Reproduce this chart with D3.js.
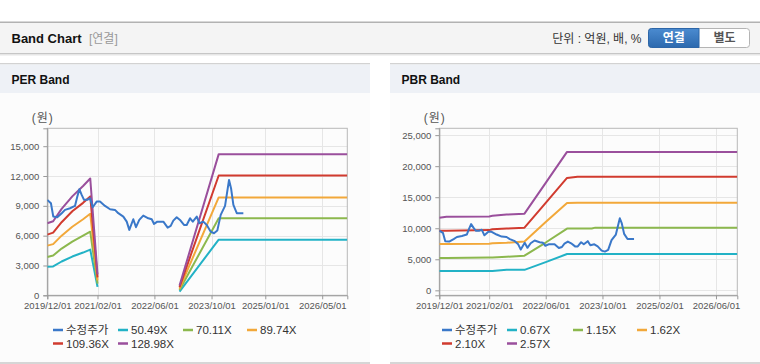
<!DOCTYPE html>
<html><head><meta charset="utf-8">
<script src="https://cdn.jsdelivr.net/npm/d3@7"></script>
<style>
body{margin:0;background:#fff;}
svg{display:block;font-family:"Liberation Sans","Noto Sans CJK KR",sans-serif;}
</style>
</head><body><svg id="c" width="760" height="364"></svg>
<script>
// ---------------- DATA ----------------
const priceDates = ["2019-12-01","2020-01-01","2020-01-21","2020-02-24","2020-04-02","2020-04-30","2020-06-12","2020-07-24","2020-08-13","2020-08-30","2020-09-19","2020-10-09","2020-11-06","2020-11-29","2020-12-22","2021-01-25","2021-02-22","2021-04-06","2021-05-19","2021-06-30","2021-07-28","2021-09-09","2021-10-08","2021-10-30","2021-12-03","2021-12-26","2022-01-23","2022-02-26","2022-04-10","2022-05-09","2022-05-29","2022-06-26","2022-08-16","2022-09-22","2022-10-18","2022-11-09","2022-12-08","2023-01-05","2023-02-08","2023-03-03","2023-04-01","2023-04-24","2023-05-28","2023-06-19","2023-07-23","2023-08-21","2023-09-24","2023-10-22","2023-11-19","2023-12-18","2024-01-24","2024-02-27","2024-03-15","2024-04-04","2024-05-03","2024-06-28"];
const priceValues = [9600,9260,7920,7850,8260,8590,8760,8990,9930,10670,10100,9600,9600,9770,8860,9430,9430,8990,8660,8590,8260,7920,7410,6580,7650,6850,7580,8020,7750,7650,7180,7410,7410,6810,6980,7510,7850,7580,7080,7080,7750,7410,7920,7250,7410,7080,6400,6240,6510,8090,8990,11610,10780,9090,8260,8260];

const perBandDates = ["2019-12-01","2020-01-20","2020-04-01","2020-07-01","2020-10-01","2020-12-01","2021-02-01","2021-03-01","2023-01-01","2023-12-01","2026-12-01"];
const per50 = [2880,2900,3400,3900,4300,4600,850,null,380,5600,5600];
const per70 = [3850,4000,4700,5400,6000,6400,1180,null,530,7750,7750];
const per89 = [5000,5150,6000,6900,7650,8200,1500,null,680,9850,9850];
const per109 = [6100,6300,7350,8450,9300,9950,1800,null,830,12050,12050];
const per128 = [7250,7450,8700,9950,11000,11750,2100,null,980,14200,14200];

const pbrBandDates = ["2019-12-01","2020-02-01","2021-02-01","2021-03-01","2021-07-01","2021-12-01","2022-06-01","2022-12-01","2023-03-01","2023-07-01","2023-08-01","2026-12-01"];
const pbr067 = [3100,3100,3100,3100,3300,3300,4550,5850,5850,5850,5850,5850];
const pbr115 = [5200,5200,5300,5300,5400,5580,7700,9950,9950,9950,10100,10100];
const pbr162 = [7450,7450,7500,7600,7650,7850,11000,14050,14100,14100,14100,14100];
const pbr210 = [9600,9600,9700,9850,9950,10100,14100,18100,18300,18300,18300,18300];
const pbr257 = [11700,11850,11900,12000,12200,12350,17300,22300,22300,22300,22300,22300];

const perLegend = ["수정주가","50.49X","70.11X","89.74X","109.36X","128.98X"];
const pbrLegend = ["수정주가","0.67X","1.15X","1.62X","2.10X","2.57X"];
const perYTicks = [0,3000,6000,9000,12000,15000];
const pbrYTicks = [0,5000,10000,15000,20000,25000];
const perXTicks = ["2019/12/01","2021/02/01","2022/06/01","2023/10/01","2025/01/01","2026/05/01"];
const pbrXTicks = ["2019/12/01","2021/02/01","2022/06/01","2023/10/01","2025/02/01","2026/06/01"];
const colors = ["#3a78c9","#22b2c6","#8cb84e","#f2a83a","#d13b2f","#9a4f9c"];

// ---------------- DRAW ----------------
const svg = d3.select("#c");
const parse = d3.timeParse("%Y-%m-%d");
const parseT = d3.timeParse("%Y/%m/%d");

// header
svg.append("rect").attr("x",0).attr("y",21.5).attr("width",760).attr("height",1.5).attr("fill","#b2b2b2");
svg.append("rect").attr("x",0).attr("y",23).attr("width",760).attr("height",30).attr("fill","#f4f4f4");
svg.append("rect").attr("x",0).attr("y",53).attr("width",760).attr("height",1).attr("fill","#c6c6c6");
svg.append("rect").attr("x",0).attr("y",54).attr("width",760).attr("height",1.5).attr("fill","#e6e6e6");
svg.append("text").attr("x",11.5).attr("y",38.5).attr("dy","0.36em").attr("font-size",13).attr("font-weight","bold").attr("fill","#111").text("Band Chart");
svg.append("text").attr("x",89).attr("y",38.5).attr("dy","0.36em").attr("font-size",12).attr("fill","#999").text("[연결]");
svg.append("text").attr("x",641.5).attr("y",38.5).attr("dy","0.36em").attr("font-size",12).attr("fill","#333").attr("text-anchor","end").text("단위 : 억원, 배, %");

const defs = svg.append("defs");
const g1 = defs.append("linearGradient").attr("id","btn").attr("x1",0).attr("x2",0).attr("y1",0).attr("y2",1);
g1.append("stop").attr("offset","0%").attr("stop-color","#4b8bd0");
g1.append("stop").attr("offset","100%").attr("stop-color","#2c69ae");
svg.append("rect").attr("x",648.5).attr("y",28.5).attr("width",101).attr("height",19).attr("rx",3).attr("fill","#fff").attr("stroke","#b4b4b4");
svg.append("path").attr("d","M699,28.5 H651.5 A3,3 0 0 0 648.5,31.5 V44.5 A3,3 0 0 0 651.5,47.5 H699 Z").attr("fill","url(#btn)").attr("stroke","#2d66a8");
svg.append("text").attr("x",673.7).attr("y",38).attr("dy","0.36em").attr("text-anchor","middle").attr("font-size",12).attr("font-weight","bold").attr("fill","#fff").text("연결");
svg.append("text").attr("x",724.5).attr("y",38).attr("dy","0.36em").attr("text-anchor","middle").attr("font-size",12).attr("font-weight","bold").attr("fill","#555").text("별도");

function panel(x0, title){
  svg.append("rect").attr("x",x0).attr("y",63).attr("width",370).attr("height",1.5).attr("fill","#d2d2d2");
  svg.append("rect").attr("x",x0).attr("y",64.5).attr("width",370).attr("height",28.5).attr("fill","#eef1f6");
  svg.append("rect").attr("x",x0).attr("y",93).attr("width",370).attr("height",269).attr("fill","#fcfcfc");
  svg.append("rect").attr("x",x0).attr("y",362).attr("width",370).attr("height",2).attr("fill","#d6d6d6");
  svg.append("text").attr("x",x0+11.5).attr("y",79.5).attr("dy","0.36em").attr("font-size",12).attr("font-weight","bold").attr("fill","#111").text(title);
}
panel(0,"PER Band");
panel(390,"PBR Band");

function chart(cfg){
  const {left,right,top,bottom,yDomain,yTicks,xTicks,bandDates,bands,legend,legendX} = cfg;
  const x = d3.scaleTime().domain([parse("2019-12-01"), parse("2026-12-01")]).range([left,right]);
  const y = d3.scaleLinear().domain(yDomain).range([bottom,top]);
  const g = svg.append("g");
  // grid
  g.selectAll(".gy").data(yTicks).join("line")
    .attr("x1",left).attr("x2",right).attr("y1",d=>Math.round(y(d))+0.5).attr("y2",d=>Math.round(y(d))+0.5)
    .attr("stroke","#e6e6e6");
  g.selectAll(".gx").data(xTicks.map(parseT)).join("line")
    .attr("x1",d=>Math.round(x(d))+0.5).attr("x2",d=>Math.round(x(d))+0.5).attr("y1",top).attr("y2",bottom)
    .attr("stroke","#e6e6e6");
  // frame
  g.append("rect").attr("x",left).attr("y",top).attr("width",right-left).attr("height",bottom-top)
    .attr("fill","none").attr("stroke","#b8b8b8");
  // axes
  const ya = d3.axisLeft(y).tickValues(yTicks).tickSize(4).tickPadding(4).tickFormat(d3.format(","));
  const ga = g.append("g").attr("transform",`translate(${left},0)`).call(ya);
  ga.select(".domain").attr("stroke","#999");
  ga.selectAll("line").attr("stroke","#999");
  ga.selectAll("text").attr("font-size",9.5).attr("fill","#555").attr("font-family","Liberation Sans, sans-serif");
  const xa = d3.axisBottom(x).tickValues(xTicks.map(parseT)).tickSize(4).tickPadding(3).tickFormat(d3.timeFormat("%Y/%m/%d"));
  const gb = g.append("g").attr("transform",`translate(0,${bottom})`).call(xa);
  gb.select(".domain").attr("stroke","#999");
  gb.selectAll("line").attr("stroke","#999");
  gb.selectAll("text").attr("font-size",9.5).attr("fill","#555").attr("font-family","Liberation Sans, sans-serif");
  g.append("text").attr("x",left-15.5).attr("y",118).attr("dy","0.36em").attr("font-size",12).attr("letter-spacing",1).attr("fill","#555").text("(원)");

  const clipId = "clip"+Math.round(left);
  defs.append("clipPath").attr("id",clipId).append("rect").attr("x",left).attr("y",top).attr("width",right-left).attr("height",bottom-top);
  const pg = g.append("g").attr("clip-path",`url(#${clipId})`);
  const bd = bandDates.map(parse);
  bands.forEach((vals,i)=>{
    const line = d3.line().defined((d,j)=>vals[j]!=null).x((d,j)=>x(bd[j])).y((d,j)=>y(vals[j]));
    pg.append("path").attr("d",line(vals)).attr("fill","none").attr("stroke",colors[i+1]).attr("stroke-width",2).attr("stroke-linejoin","round");
  });
  const pd = priceDates.map(parse);
  const pline = d3.line().x((d,j)=>x(pd[j])).y((d,j)=>y(priceValues[j]));
  pg.append("path").attr("d",pline(priceValues)).attr("fill","none").attr("stroke",colors[0]).attr("stroke-width",2).attr("stroke-linejoin","round");

  // legend
  const lg = g.append("g");
  legend.forEach((t,i)=>{
    const row = i<4?0:1, col = i<4?i:i-4;
    const lx = legendX[col], ly = row===0?330:343.5;
    lg.append("line").attr("x1",lx).attr("x2",lx+10).attr("y1",ly).attr("y2",ly).attr("stroke",colors[i]).attr("stroke-width",2.5);
    lg.append("text").attr("x",lx+13).attr("y",ly).attr("dy","0.36em").attr("font-size",11.5).attr("fill","#333").text(t);
  });
}

chart({left:47.3,right:347.3,top:128.3,bottom:295.3,yDomain:[0,16800],yTicks:perYTicks,xTicks:perXTicks,
  bandDates:perBandDates,bands:[per50,per70,per89,per109,per128],legend:perLegend,legendX:[53,118,183,247]});
chart({left:439.3,right:737.3,top:128.3,bottom:295.3,yDomain:[-800,26100],yTicks:pbrYTicks,xTicks:pbrXTicks,
  bandDates:pbrBandDates,bands:[pbr067,pbr115,pbr162,pbr210,pbr257],legend:pbrLegend,legendX:[442,507,573,637]});
</script></body></html>
